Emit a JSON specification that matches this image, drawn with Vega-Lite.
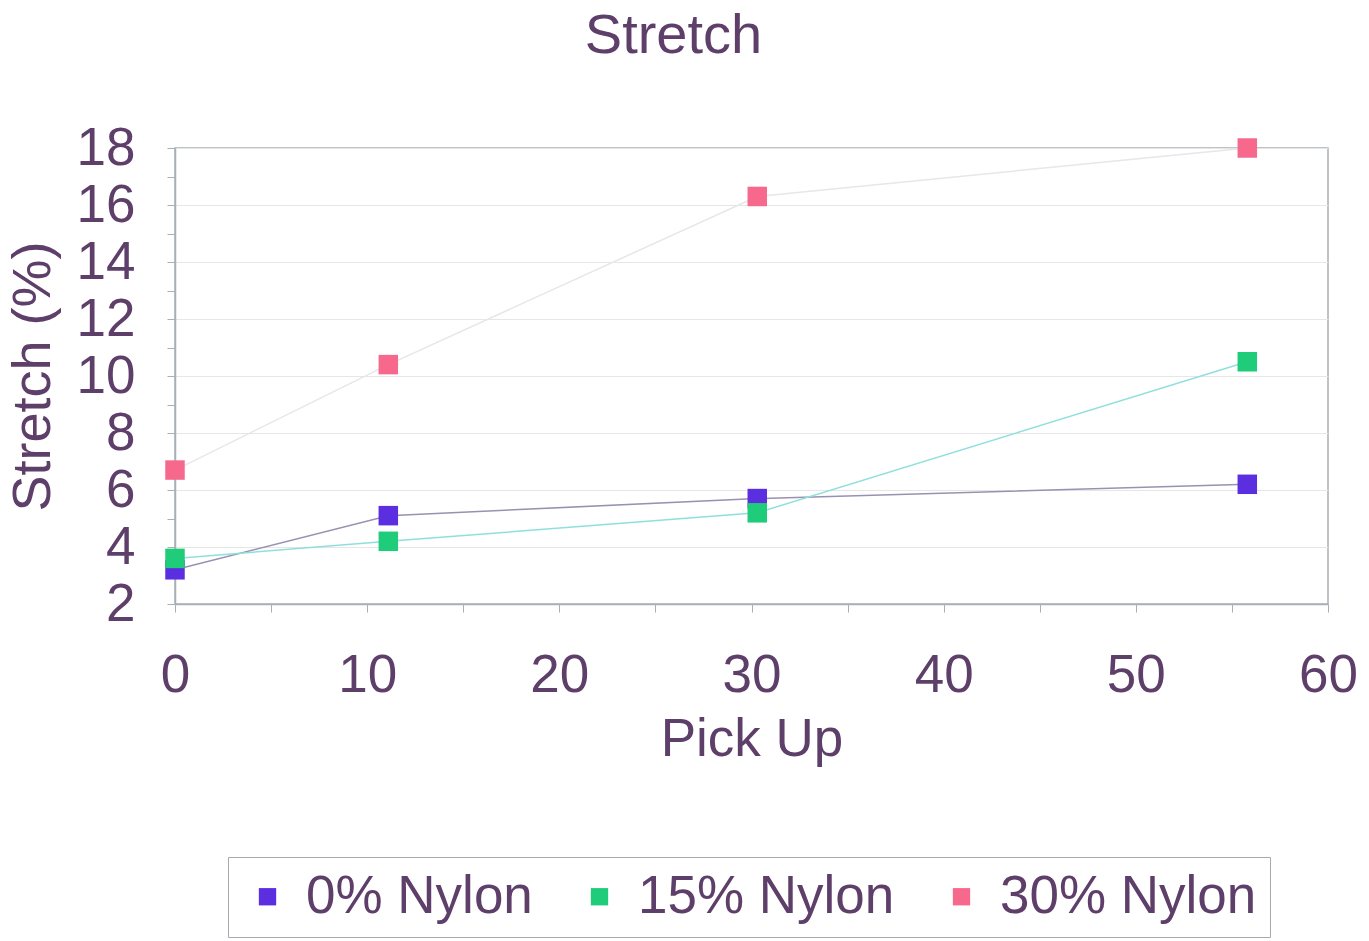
{
  "$schema": "https://vega.github.io/schema/vega-lite/v6.json",
  "autosize": {"type": "none"},
  "width": 1153,
  "height": 456,
  "padding": {"left": 175, "top": 148, "right": 41, "bottom": 337},
  "background": "white",
  "config": {
    "font": "Liberation Sans",
    "view": {"stroke": "#a7b0b8", "strokeWidth": 1.5}
  },
  "title": {
    "text": "Stretch",
    "fontSize": 56,
    "fontWeight": "normal",
    "color": "#5e3f6a",
    "font": "Liberation Sans",
    "anchor": "middle",
    "dx": -78,
    "offset": 57
  },
  "data": {
    "values": [
      {"series": "0% Nylon", "pickup": 0, "stretch": 3.2},
      {"series": "0% Nylon", "pickup": 11.1, "stretch": 5.1},
      {"series": "0% Nylon", "pickup": 30.3, "stretch": 5.7},
      {"series": "0% Nylon", "pickup": 55.8, "stretch": 6.2},
      {"series": "15% Nylon", "pickup": 0, "stretch": 3.6},
      {"series": "15% Nylon", "pickup": 11.1, "stretch": 4.2},
      {"series": "15% Nylon", "pickup": 30.3, "stretch": 5.2},
      {"series": "15% Nylon", "pickup": 55.8, "stretch": 10.5},
      {"series": "30% Nylon", "pickup": 0, "stretch": 6.7},
      {"series": "30% Nylon", "pickup": 11.1, "stretch": 10.4},
      {"series": "30% Nylon", "pickup": 30.3, "stretch": 16.3},
      {"series": "30% Nylon", "pickup": 55.8, "stretch": 18.0}
    ]
  },
  "encoding": {
    "x": {
      "field": "pickup",
      "type": "quantitative",
      "scale": {"domain": [0, 60], "nice": false, "zero": false},
      "axis": {
        "title": "Pick Up",
        "titleFontSize": 53,
        "titleFontWeight": "normal",
        "titleColor": "#5e3f6a",
        "titlePadding": 11,
        "labelFontSize": 53,
        "labelColor": "#5e3f6a",
        "labelPadding": 37,
        "values": [0, 5, 10, 15, 20, 25, 30, 35, 40, 45, 50, 55, 60],
        "labelExpr": "datum.value % 10 == 0 ? datum.label : ''",
        "grid": false,
        "domainColor": "#a7b0b8",
        "domainWidth": 1.5,
        "tickColor": "#a7b0b8",
        "tickSize": 8,
        "labelFlush": false
      }
    },
    "y": {
      "field": "stretch",
      "type": "quantitative",
      "scale": {"domain": [2, 18], "nice": false, "zero": false},
      "axis": {
        "title": "Stretch (%)",
        "titleFontSize": 54,
        "titleFontWeight": "normal",
        "titleColor": "#5e3f6a",
        "titlePadding": 16,
        "labelFontSize": 53,
        "labelColor": "#5e3f6a",
        "labelPadding": 32,
        "values": [2, 3, 4, 5, 6, 7, 8, 9, 10, 11, 12, 13, 14, 15, 16, 17, 18],
        "labelExpr": "datum.value % 2 == 0 ? datum.label : ''",
        "grid": true,
        "gridColor": "#e6e6e6",
        "gridOpacity": {"condition": {"test": "datum.value % 2 == 0", "value": 1}, "value": 0},
        "domainColor": "#a7b0b8",
        "domainWidth": 1.5,
        "tickColor": "#a7b0b8",
        "tickSize": 8,
        "labelFlush": false
      }
    }
  },
  "layer": [
    {
      "mark": {"type": "line", "strokeWidth": 1.5},
      "encoding": {
        "color": {
          "field": "series",
          "type": "nominal",
          "scale": {"domain": ["0% Nylon", "15% Nylon", "30% Nylon"], "range": ["#9a90b0", "#8fe0dc", "#e8e6e8"]},
          "legend": null
        }
      }
    },
    {
      "mark": {"type": "point", "shape": "square", "filled": true, "size": 380, "opacity": 1},
      "encoding": {
        "color": {
          "field": "series",
          "type": "nominal",
          "scale": {"domain": ["0% Nylon", "15% Nylon", "30% Nylon"], "range": ["#5b2fe0", "#1ecc7a", "#f7698c"]},
          "legend": {
            "title": null,
            "orient": "none",
            "direction": "horizontal",
            "legendX": 53,
            "legendY": 709,
            "columns": 3,
            "symbolType": "square",
            "symbolSize": 300,
            "symbolOpacity": 1,
            "labelFontSize": 53,
            "labelColor": "#5e3f6a",
            "labelLimit": 400,
            "columnPadding": 40,
            "padding": 13,
            "strokeColor": "#a8a8b0",
            "fillColor": "white",
            "symbolOffset": 0,
            "labelOffset": 12
          }
        }
      }
    }
  ],
  "resolve": {"scale": {"color": "independent"}, "legend": {"color": "independent"}}
}
